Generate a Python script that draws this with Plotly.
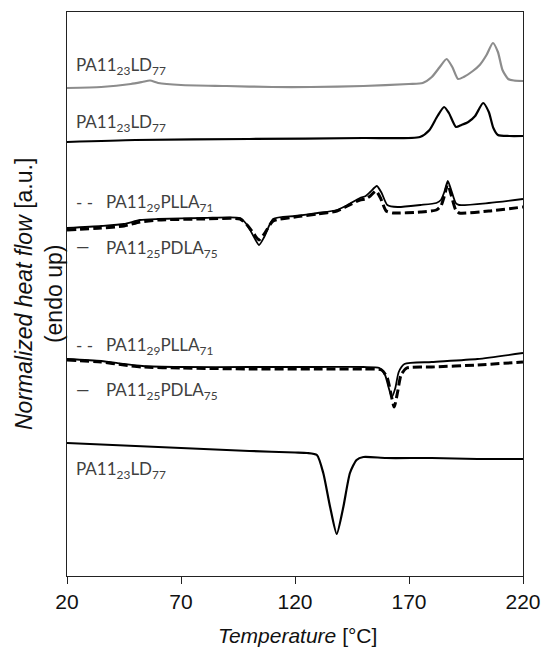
import plotly.graph_objects as go

# ---- data (temperature in °C, normalized heat flow in arbitrary units, curves offset vertically) ----
t_ld_gray = [20, 35, 48, 53, 56.4, 60, 70, 90, 110, 127, 150, 170, 176, 180, 183.5, 186.5, 189, 191.5,
             194, 198, 201, 204, 206.8, 209, 211, 213.5, 216, 220]
hf_ld_gray = [488, 489, 492, 494, 495.5, 493, 491, 490, 489, 489, 490, 492, 493, 499, 509, 517, 509, 497,
              499, 505, 511, 521, 533, 524, 506, 497, 495.5, 495]

t_ld_black = [20, 50, 100, 150, 174.8, 179, 182.5, 185.4, 187.5, 190.6, 193, 196, 199, 202.5, 205, 207, 209, 214, 220]
hf_ld_black = [434, 436, 437, 438, 439, 446, 460, 469, 463, 449, 451, 454, 460, 473, 464, 448, 441, 440, 440]

t_pdla_h = [20, 35, 45, 52, 60, 80, 95.9, 99, 102, 104.2, 106.5, 110.4, 120, 130, 138.4, 143, 148.5, 151,
            153, 155.9, 158, 160.5, 165, 175, 182, 184, 185.5, 187, 188.5, 190.5, 192, 205, 220]
hf_pdla_h = [348, 350, 352, 356, 357, 358, 358, 351, 339, 331, 339, 357, 360, 363, 366, 371, 378, 380,
             384, 390, 383, 371, 369, 371, 373, 376, 384, 395, 386, 373, 371, 373, 377]

t_plla_h = [20, 35, 45, 52, 60, 80, 95.9, 99, 102, 104.2, 106.5, 110.4, 120, 130, 138.4, 143, 148.5, 151,
            153, 155.5, 157.5, 160, 163, 175, 182, 184, 185.5, 187, 188.5, 190.5, 192, 205, 220]
hf_plla_h = [346, 348, 350, 354, 356, 357, 357, 351, 342, 336, 342, 355, 359, 362, 365, 370, 376, 377,
             380, 385, 378, 365, 363, 364, 366, 370, 380, 392, 381, 366, 363, 365, 369]

t_pdla_c = [20, 35, 45, 53, 70, 100, 130, 150, 157, 159.5, 161, 162.5, 164, 165.5, 168, 180, 200, 220]
hf_pdla_c = [217, 215, 212, 210, 209, 209, 209, 209, 208, 201, 189, 179, 188, 204, 212, 214, 217, 223]

t_plla_c = [20, 35, 45, 53, 70, 100, 130, 150, 158, 160.5, 162, 163.5, 165, 166.5, 169, 180, 200, 220]
hf_plla_c = [216, 214, 211, 209, 208, 207, 207, 207, 206, 198, 183, 169, 184, 201, 208, 209, 211, 214]

t_ld_c = [20, 40, 60, 80, 100, 120, 125.3, 129.6, 132.4, 135.4, 138.3, 141.2, 144.1, 147, 150, 160, 180, 200, 220]
hf_ld_c = [133, 131, 129, 127, 125, 123.5, 123, 121, 103, 69, 42, 69, 103, 116, 119, 118, 118, 117, 117]

x_ticks = [20, 70, 120, 170, 220]

label_ld = "PA11<sub>23</sub>LD<sub>77</sub>"
label_plla = "PA11<sub>29</sub>PLLA<sub>71</sub>"
label_pdla = "PA11<sub>25</sub>PDLA<sub>75</sub>"

fig = go.Figure()

def add(t, hf, color, width, dash="solid"):
    fig.add_trace(go.Scatter(x=t, y=hf, mode="lines", line=dict(color=color, width=width, dash=dash,
                                                                 shape="spline", smoothing=0.6),
                             showlegend=False, hoverinfo="skip"))

add(t_ld_gray, hf_ld_gray, "#8c8c8c", 2.2)
add(t_ld_black, hf_ld_black, "#000000", 2.2)
add(t_plla_h, hf_plla_h, "#000000", 3.0, "9px,4px")
add(t_pdla_h, hf_pdla_h, "#000000", 1.8)
add(t_plla_c, hf_plla_c, "#000000", 3.0, "9px,4px")
add(t_pdla_c, hf_pdla_c, "#000000", 1.8)
add(t_ld_c, hf_ld_c, "#000000", 2.2)

LEFT, RIGHT, TOP, BOTTOM = 67, 523, 12, 576
W, H = 543, 648

def px(xp):
    return (xp - LEFT) / (RIGHT - LEFT)

def py(yp):
    return (BOTTOM - yp) / (BOTTOM - TOP)

lab_font = dict(family="Lato, Open Sans, sans-serif", size=17, color="#404040")

def label(text, xp, yp):
    fig.add_annotation(text=text, xref="paper", yref="paper", x=px(xp), y=py(yp),
                       xanchor="left", yanchor="middle", showarrow=False, font=lab_font)

label(label_ld, 74, 66)
label(label_ld, 74, 123)
label("- -", 74, 202)
label(label_plla, 104, 203)
label("—", 74, 247)
label(label_pdla, 104, 249)
label("- -", 74, 345)
label(label_plla, 104, 346)
label("—", 74, 389)
label(label_pdla, 104, 391)
label(label_ld, 74, 470)

fig.add_annotation(text="<i>Normalized heat flow</i> [a.u.]<br>(endo up)", xref="paper", yref="paper",
                   x=px(39), y=py(294), xanchor="center", yanchor="middle", textangle=-90,
                   showarrow=False, font=dict(family="Liberation Sans, Arial, sans-serif", size=23, color="#111111"))

fig.add_annotation(text="<i>Temperature</i> [°C]", xref="paper", yref="paper",
                   x=px(297), y=py(635), xanchor="center", yanchor="middle",
                   showarrow=False, font=dict(family="Liberation Sans, Arial, sans-serif", size=21, color="#111111"))

fig.update_layout(
    width=W, height=H, autosize=False,
    margin=dict(l=LEFT, r=W - RIGHT, t=TOP, b=H - BOTTOM, pad=0, autoexpand=False),
    paper_bgcolor="white", plot_bgcolor="white",
    xaxis=dict(range=[20, 220], tickvals=x_ticks, ticks="outside", ticklen=7, tickwidth=1.2,
               tickcolor="#222", showline=True, linecolor="#222", linewidth=1.2, mirror=True,
               showgrid=False, zeroline=False, automargin=False,
               tickfont=dict(family="Liberation Sans, Arial, sans-serif", size=21, color="#111111")),
    yaxis=dict(range=[0, 564], showticklabels=False, ticks="", showline=True, linecolor="#222",
               linewidth=1.2, mirror=True, showgrid=False, zeroline=False, automargin=False),
)

fig.write_html("out.html")
